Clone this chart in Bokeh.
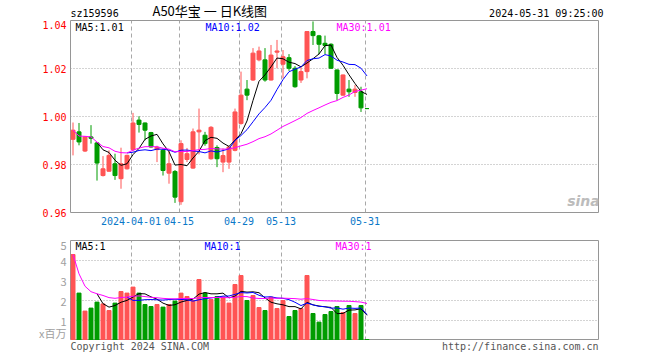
import pandas as pd
from bokeh.plotting import figure
from bokeh.models import Range1d, FixedTicker, Label, ColumnDataSource, NumeralTickFormatter
from bokeh.layouts import column
from bokeh.embed import file_html
from bokeh.resources import INLINE

# ---------------- data ----------------
dates = [
    "2024-03-18", "2024-03-19", "2024-03-20", "2024-03-21", "2024-03-22",
    "2024-03-25", "2024-03-26", "2024-03-27", "2024-03-28", "2024-03-29",
    "2024-04-01", "2024-04-02", "2024-04-03", "2024-04-08", "2024-04-09",
    "2024-04-10", "2024-04-11", "2024-04-12", "2024-04-15", "2024-04-16",
    "2024-04-17", "2024-04-18", "2024-04-19", "2024-04-22", "2024-04-23",
    "2024-04-24", "2024-04-25", "2024-04-26", "2024-04-29", "2024-04-30",
    "2024-05-06", "2024-05-07", "2024-05-08", "2024-05-09", "2024-05-10",
    "2024-05-13", "2024-05-14", "2024-05-15", "2024-05-16", "2024-05-17",
    "2024-05-20", "2024-05-21", "2024-05-22", "2024-05-23", "2024-05-24",
    "2024-05-27", "2024-05-28", "2024-05-29", "2024-05-30", "2024-05-31",
]
opens = [
    0.9905, 0.9936, 0.9856, 0.9915, 0.9890, 0.9754, 0.9772, 0.9803, 0.9741, 0.9782,
    0.9862, 0.9985, 0.9973, 0.9933, 0.9862, 0.9859, 0.9764, 0.9771, 0.9645, 0.9821,
    0.9785, 0.9936, 0.9922, 0.9824, 0.9871, 0.9810, 0.9810, 0.9859, 0.9971, 1.0114,
    1.0152, 1.0236, 1.0236, 1.0152, 1.0268, 1.0218, 1.0245, 1.0201, 1.0152, 1.0187,
    1.0354, 1.0336, 1.0305, 1.0301, 1.0194, 1.0089, 1.0114, 1.0100, 1.0103, 1.0033,
]
highs = [
    0.9975, 0.9973, 0.9918, 0.9964, 0.9893, 0.9835, 0.9859, 0.9845, 0.9870, 0.9841,
    1.0015, 1.0001, 0.9975, 0.9936, 0.9878, 0.9866, 0.9859, 0.9777, 0.9901, 0.9869,
    0.9950, 1.0033, 0.9936, 0.9960, 0.9880, 0.9867, 0.9875, 1.0033, 1.0187, 1.0152,
    1.0285, 1.0291, 1.0285, 1.0298, 1.0319, 1.0277, 1.0260, 1.0210, 1.0208, 1.0356,
    1.0396, 1.0340, 1.0337, 1.0305, 1.0196, 1.0175, 1.0152, 1.0131, 1.0124, 1.0033,
]
lows = [
    0.9838, 0.9880, 0.9852, 0.9887, 0.9733, 0.9750, 0.9770, 0.9736, 0.9699, 0.9779,
    0.9855, 0.9933, 0.9901, 0.9870, 0.9810, 0.9754, 0.9720, 0.9640, 0.9632, 0.9810,
    0.9782, 0.9842, 0.9878, 0.9820, 0.9789, 0.9768, 0.9782, 0.9855, 0.9966, 1.0068,
    1.0148, 1.0230, 1.0145, 1.0150, 1.0201, 1.0159, 1.0190, 1.0120, 1.0140, 1.0159,
    1.0298, 1.0259, 1.0259, 1.0198, 1.0068, 1.0087, 1.0082, 1.0082, 1.0019, 1.0033,
]
closes = [
    0.9943, 0.9894, 0.9915, 0.9909, 0.9806, 0.9782, 0.9838, 0.9754, 0.9803, 0.9838,
    0.9973, 0.9967, 0.9943, 0.9873, 0.9872, 0.9775, 0.9803, 0.9664, 0.9887, 0.9845,
    0.9936, 0.9943, 0.9887, 0.9955, 0.9824, 0.9837, 0.9873, 1.0019, 1.0089, 1.0089,
    1.0264, 1.0273, 1.0152, 1.0256, 1.0273, 1.0249, 1.0201, 1.0124, 1.0187, 1.0354,
    1.0337, 1.0301, 1.0296, 1.0201, 1.0096, 1.0173, 1.0103, 1.0114, 1.0036, 1.0033,
]
volumes = [  # x 1,000,000
    4.30, 2.37, 1.47, 1.62, 1.92, 1.83, 1.50, 1.87, 2.45, 2.37,
    2.67, 2.37, 1.80, 1.70, 1.80, 1.67, 1.80, 1.97, 2.37, 2.20,
    2.00, 3.05, 2.37, 2.05, 2.20, 2.17, 1.87, 2.80, 3.25, 2.00,
    2.25, 1.65, 1.50, 2.17, 1.60, 2.00, 1.20, 1.50, 1.60, 3.25,
    1.35, 0.92, 1.30, 1.45, 1.70, 1.40, 1.75, 1.35, 1.75, 0.05,
]
tick_dates = ["2024-04-01", "2024-04-15", "2024-04-29", "2024-05-13", "2024-05-31"]
tick_labels = ["2024-04-01", "04-15", "04-29", "05-13", "05-31"]
price_ticks = [0.96, 0.98, 1.00, 1.02, 1.04]
volume_ticks = [0, 1, 2, 3, 4, 5]

# ---------------- styling ----------------
RED = "#ff5454"
GREEN = "#009c00"
GRID = "#a8a8a8"
FRAME = "#969696"
MONO = "DejaVu Sans Mono"
CJK = "Noto Sans CJK SC"
LEFT, FRAME_W, RIGHT = 70, 528, 54

n = len(dates)
up = []
for i in range(n):
    if closes[i] > opens[i]:
        up.append(True)
    elif closes[i] < opens[i]:
        up.append(False)
    else:
        up.append(i == 0 or closes[i] >= closes[i - 1])
colors = [RED if u else GREEN for u in up]

cs = pd.Series(closes)
vs = pd.Series(volumes)
src = ColumnDataSource(dict(
    x=list(range(n)),
    high=highs, low=lows,
    top=[max(o, c) for o, c in zip(opens, closes)],
    bottom=[min(o, c) for o, c in zip(opens, closes)],
    vol=volumes, color=colors,
    ma5=cs.rolling(5).mean(), ma10=cs.rolling(10).mean(),
    ma30=cs.rolling(30, min_periods=1).mean(),
    vma5=vs.rolling(5).mean(), vma10=vs.rolling(10).mean(),
    vma30=vs.rolling(30, min_periods=1).mean(),
))

SLOT = 6.0  # px per trading day
X0 = -2.5 / SLOT
x_range = Range1d(X0, X0 + FRAME_W / SLOT)
tick_pos = [round(dates.index(d) - 1 / 3, 4) for d in tick_dates]


def base(fig):
    fig.outline_line_color = FRAME
    fig.outline_line_width = 1
    fig.background_fill_color = "white"
    fig.border_fill_color = "white"
    for ax in fig.axis:
        ax.axis_line_color = None
        ax.major_tick_line_color = None
        ax.minor_tick_line_color = None
        ax.major_tick_out = 0
        ax.major_tick_in = 0
        ax.minor_tick_out = 0
        ax.minor_tick_in = 0
    fig.xgrid.ticker = FixedTicker(ticks=tick_pos)
    fig.xgrid.grid_line_color = GRID
    fig.xgrid.grid_line_dash = "4 3"
    fig.ygrid.grid_line_color = GRID
    fig.ygrid.grid_line_dash = "1 2"


def label(fig, text, x, y, color="black", align="left", font=MONO, size="10px", style="normal"):
    fig.add_layout(Label(x=x, y=y, x_units="screen", y_units="screen", text=text,
                         text_color=color, text_align=align, text_baseline="middle",
                         text_font=font, text_font_size=size, text_font_style=style))


def strip(height):
    # frame starts at the same left edge as the chart frames (column aligns them)
    w = FRAME_W + RIGHT
    f = figure(frame_width=w, frame_height=height, min_border_left=LEFT, min_border_right=0,
               min_border_top=0, min_border_bottom=0, x_range=Range1d(0, w),
               y_range=Range1d(0, height), output_backend="svg", toolbar_location=None)
    f.xaxis.visible = False
    f.yaxis.visible = False
    f.xgrid.visible = False
    f.ygrid.visible = False
    f.outline_line_color = None
    f.background_fill_color = "white"
    f.border_fill_color = "white"
    return f


# ---------------- header ----------------
h = strip(20)
label(h, "sz159596", 0, 7)
label(h, "A50华宝 一 日K线图", 82, 10, font=CJK, size="13px")
label(h, "2024-05-31 09:25:00", 533, 7, align="right")

# ---------------- price panel ----------------
p = figure(frame_width=FRAME_W, frame_height=192, min_border_left=LEFT, min_border_right=RIGHT,
           min_border_top=0, min_border_bottom=24, x_range=x_range,
           y_range=Range1d(price_ticks[0], price_ticks[-1]),
           output_backend="svg", toolbar_location=None)
base(p)
p.yaxis.ticker = FixedTicker(ticks=price_ticks)
p.yaxis.formatter = NumeralTickFormatter(format="0.00")
p.yaxis.major_label_text_color = "#ff0000"
p.yaxis.major_label_text_font = MONO
p.yaxis.major_label_text_font_size = "10px"
p.yaxis.major_label_standoff = 4
p.ygrid.ticker = FixedTicker(ticks=price_ticks[1:-1])
p.xaxis.ticker = FixedTicker(ticks=tick_pos)
p.xaxis.major_label_overrides = {t: l for t, l in zip(tick_pos, tick_labels)}
p.xaxis.major_label_text_color = "#0a78c8"
p.xaxis.major_label_text_font = MONO
p.xaxis.major_label_text_font_size = "10px"
p.xaxis.major_label_standoff = 4

p.segment(x0="x", y0="high", x1="x", y1="low", line_color="color", line_width=1, source=src)
p.vbar(x="x", width=4 / SLOT, top="top", bottom="bottom", fill_color="color",
       line_color="color", line_width=1, source=src)
p.line("x", "ma5", line_color="black", line_width=1, source=src)
p.line("x", "ma10", line_color="#0000ff", line_width=1, source=src)
p.line("x", "ma30", line_color="#ff00ff", line_width=1, source=src)

label(p, "MA5:1.01", 5, 185.5)
label(p, "MA10:1.02", 135, 185.5, color="#0000ff")
label(p, "MA30:1.01", 266, 185.5, color="#ff00ff")
label(p, "sina", 513, 12, color="#bcbcbc", font="DejaVu Sans", size="14px", style="bold italic",
      align="center")

# ---------------- volume panel ----------------
v = figure(frame_width=FRAME_W, frame_height=100, min_border_left=LEFT, min_border_right=RIGHT,
           min_border_top=4, min_border_bottom=0, x_range=x_range,
           y_range=Range1d(volume_ticks[0], volume_ticks[-1]),
           output_backend="svg", toolbar_location=None)
base(v)
v.xaxis.visible = False
v.yaxis.ticker = FixedTicker(ticks=volume_ticks)
v.yaxis.major_label_overrides = {0: "x百万"}
v.yaxis.major_label_text_color = "#a0a0a0"
v.yaxis.major_label_text_font = CJK
v.yaxis.major_label_text_font_size = "11px"
v.yaxis.major_label_standoff = 4
v.ygrid.ticker = FixedTicker(ticks=volume_ticks[1:-1])

v.vbar(x="x", width=4 / SLOT, top="vol", bottom=0, fill_color="color",
       line_color="color", line_width=1, source=src)
v.line("x", "vma5", line_color="black", line_width=1, source=src)
v.line("x", "vma10", line_color="#0000ff", line_width=1, source=src)
v.line("x", "vma30", line_color="#ff00ff", line_width=1, source=src)

label(v, "MA5:1", 5, 94)
label(v, "MA10:1", 134, 94, color="#0000ff")
label(v, "MA30:1", 265, 94, color="#ff00ff")

# ---------------- footer ----------------
f = strip(14)
label(f, "Copyright 2024 SINA.COM", 0, 8, color="#555555")
label(f, "http://finance.sina.com.cn", 528, 8, color="#555555", align="right")

layout = column(h, p, v, f, spacing=0)
open("out.html", "w").write(file_html(layout, INLINE))
